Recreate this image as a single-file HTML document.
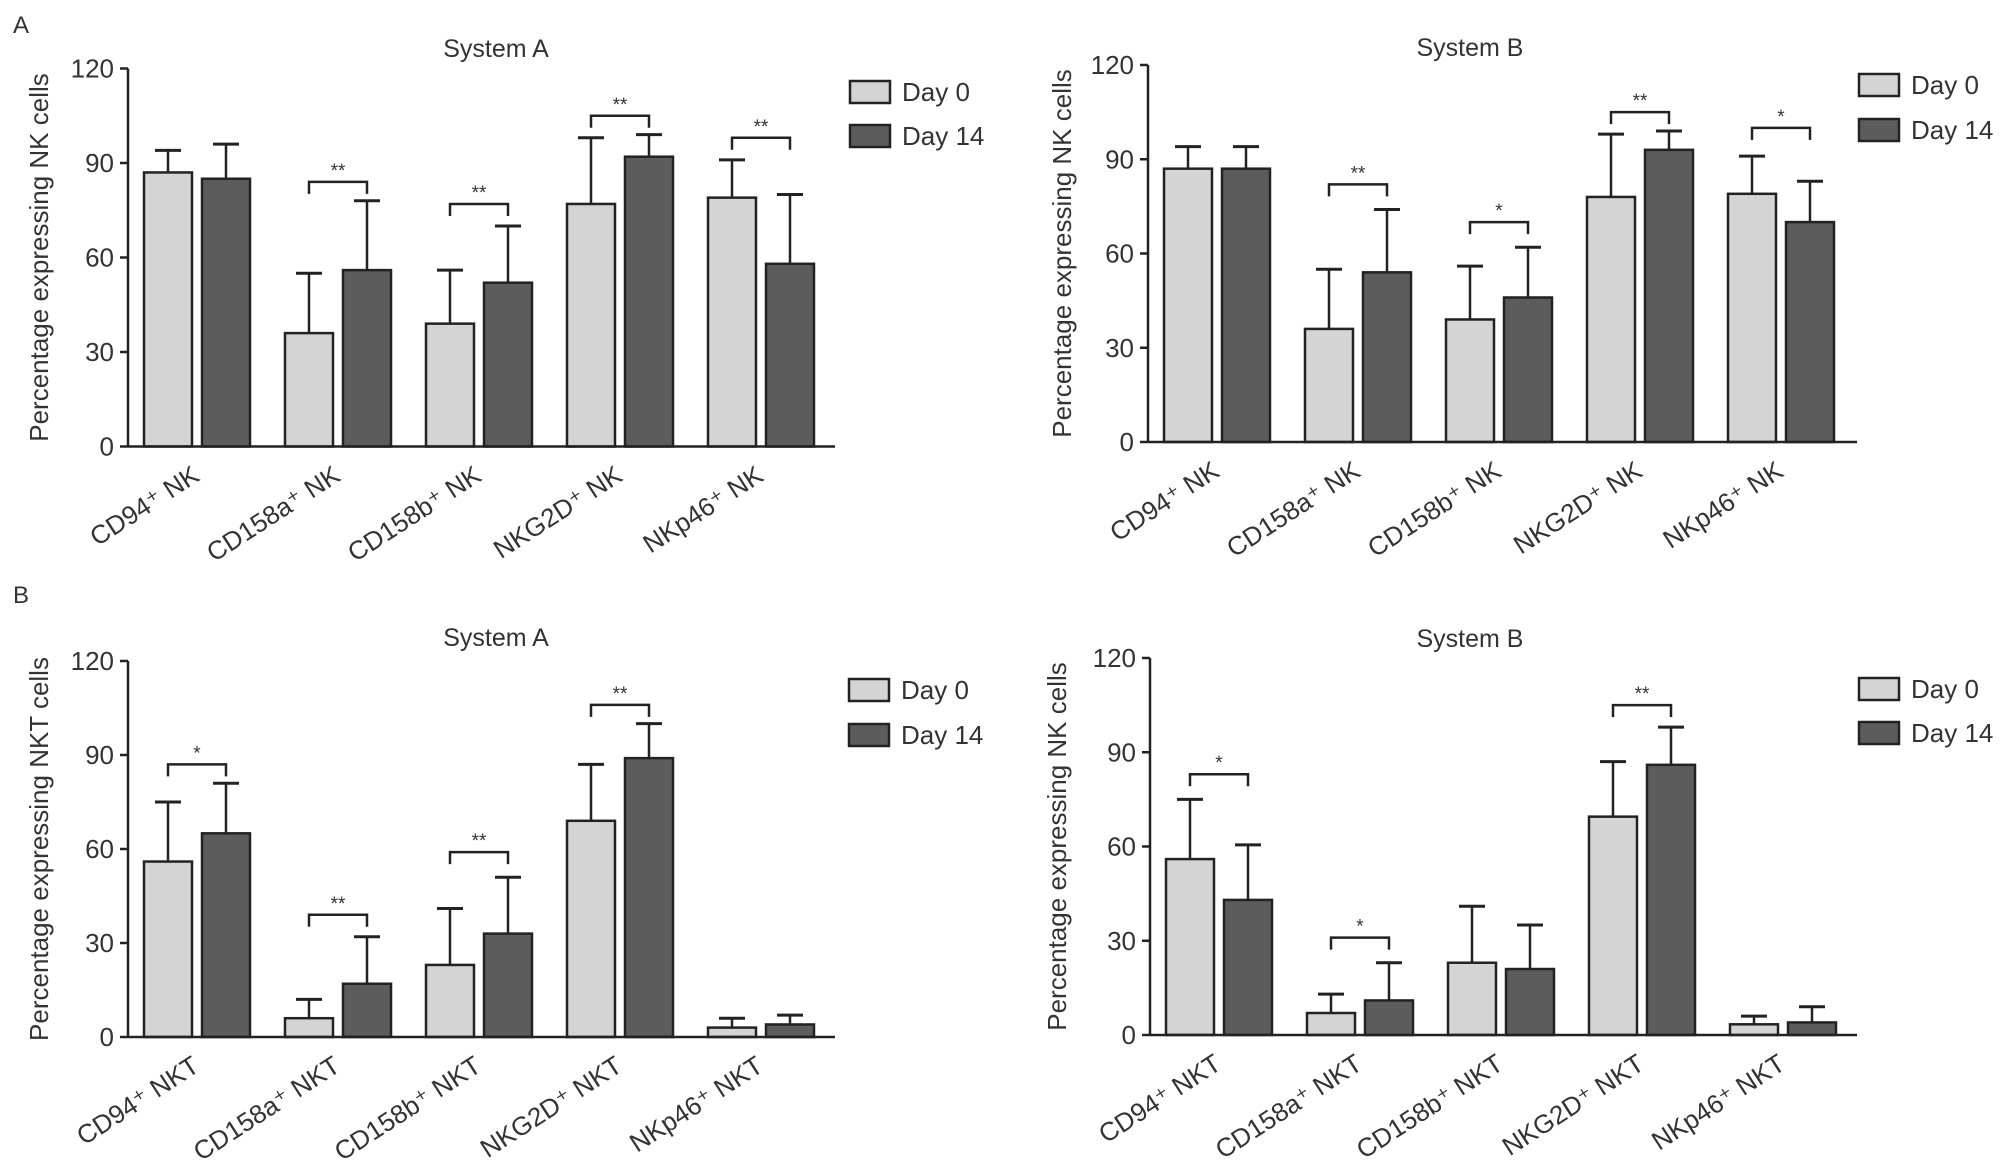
<!DOCTYPE html>
<html><head><meta charset="utf-8"><style>
html,body{margin:0;padding:0;background:#fff;}
svg{display:block;font-family:"Liberation Sans",Arial,sans-serif;}
</style></head><body>
<svg id="fig" width="2008" height="1162" viewBox="0 0 2008 1162" xmlns="http://www.w3.org/2000/svg">
<text x="13" y="33" font-size="24" fill="#333">A</text>
<text x="13" y="603" font-size="24" fill="#333">B</text>
</svg>
<script>
// Data arrays
const catsNK = ["CD94⁺ NK","CD158a⁺ NK","CD158b⁺ NK","NKG2D⁺ NK","NKp46⁺ NK"];
const catsNKT = ["CD94⁺ NKT","CD158a⁺ NKT","CD158b⁺ NKT","NKG2D⁺ NKT","NKp46⁺ NKT"];
const yTicks = [0,30,60,90,120];
const legendLabels = ["Day 0","Day 14"];

const p1Day0 = [87,36,39,77,79];
const p1Day0Err = [94,55,56,98,91];
const p1Day14 = [85,56,52,92,58];
const p1Day14Err = [96,78,70,99,80];
const p1SigCat = [1,2,3,4];
const p1SigY = [84,77,105,98];
const p1SigTxt = ["**","**","**","**"];

const p2Day0 = [87,36,39,78,79];
const p2Day0Err = [94,55,56,98,91];
const p2Day14 = [87,54,46,93,70];
const p2Day14Err = [94,74,62,99,83];
const p2SigCat = [1,2,3,4];
const p2SigY = [82,70,105,100];
const p2SigTxt = ["**","*","**","*"];

const p3Day0 = [56,6,23,69,3];
const p3Day0Err = [75,12,41,87,6];
const p3Day14 = [65,17,33,89,4];
const p3Day14Err = [81,32,51,100,7];
const p3SigCat = [0,1,2,3];
const p3SigY = [87,39,59,106];
const p3SigTxt = ["*","**","**","**"];

const p4Day0 = [56,7,23,69.5,3.4];
const p4Day0Err = [75,13,41,87,6];
const p4Day14 = [43,11,21,86,4];
const p4Day14Err = [60.5,23,35,98,9];
const p4SigCat = [0,1,3];
const p4SigY = [83,31,105];
const p4SigTxt = ["*","*","**"];

const NS="http://www.w3.org/2000/svg";
const svg=document.getElementById('fig');
function mk(tag,attrs,parent){const e=document.createElementNS(NS,tag);for(const k in attrs)e.setAttribute(k,attrs[k]);(parent||svg).appendChild(e);return e;}

function panel(id,cfg){
  const g=mk('g',{});
  
  
  const {ax,top,bot,right}=cfg;
  const yS=v=>bot-(v/120)*(bot-top);
  const xS=(i,s)=>ax+16+i*141+s*58;
  const bw=48;
  const t=mk('text',{x:cfg.tx,y:cfg.ty,'font-size':25,'text-anchor':'middle',fill:'#333'},g);
  t.textContent=cfg.title;
  
  
  const yt=mk('text',{x:0,y:0,'font-size':26,'text-anchor':'middle',fill:'#333',transform:`translate(${cfg.ytx},${(top+bot)/2}) rotate(-90)`},g);
  yt.textContent=cfg.ytitle;
  
  
  yTicks.forEach(v=>{
    const y=yS(v);
    const l=mk('line',{x1:ax-8,x2:ax,y1:y,y2:y,stroke:'#222','stroke-width':2.5},g);
    
    
    const tx=mk('text',{x:ax-14,y:y+9,'font-size':26,'text-anchor':'end',fill:'#333'},g);
    tx.textContent=v;
    
    
  });
  const series=[[cfg.d0,cfg.e0,'#d4d4d4'],[cfg.d14,cfg.e14,'#5c5c5c']];
  series.forEach((s,si)=>{
    s[0].forEach((v,i)=>{
      const x=xS(i,si), cx=x+bw/2;
      const el=mk('line',{x1:cx,x2:cx,y1:yS(s[1][i]),y2:yS(v),stroke:'#222','stroke-width':2.5},g);
      
      
      const cap=mk('line',{x1:cx-13,x2:cx+13,y1:yS(s[1][i]),y2:yS(s[1][i]),stroke:'#222','stroke-width':3},g);
      
      
      const r=mk('rect',{x:x,y:yS(v),width:bw,height:bot-yS(v),fill:s[2],stroke:'#222','stroke-width':2.5},g);
      
      
    });
  });
  const ya=mk('line',{x1:ax,x2:ax,y1:top,y2:bot,stroke:'#222','stroke-width':2.5},g);
  
  
  const xa=mk('line',{x1:ax,x2:right,y1:bot,y2:bot,stroke:'#222','stroke-width':2.5},g);
  
  
  cfg.cats.forEach((c,i)=>{
    const cx=xS(i,0)+57, cy=bot+33;
    const tx=mk('text',{x:0,y:0,'font-size':26,'text-anchor':'end',fill:'#333',transform:`translate(${cx},${cy}) rotate(-33)`},g);
    tx.textContent=c;
    
    
  });
  cfg.sc.forEach((ci,k)=>{
    const x1=xS(ci,0)+bw/2, x2=xS(ci,1)+bw/2, y=yS(cfg.sy[k]);
    const p=mk('path',{d:`M${x1},${y+12} V${y} H${x2} V${y+12}`,fill:'none',stroke:'#222','stroke-width':2.5},g);
    
    
    const st=mk('text',{x:(x1+x2)/2,y:y-5,'font-size':19,'text-anchor':'middle',fill:'#333'},g);
    st.textContent=cfg.st[k];
    
    
  });
  const cols=['#d4d4d4','#5c5c5c'];
  legendLabels.forEach((lab,k)=>{
    const y=cfg.ly[k];
    const r=mk('rect',{x:cfg.lx,y:y,width:40,height:22,fill:cols[k],stroke:'#222','stroke-width':2.5},g);
    
    
    const tx=mk('text',{x:cfg.lx+52,y:y+20,'font-size':26,fill:'#333'},g);
    tx.textContent=lab;
    
    
  });
}

panel('nk-system-a',{ax:128,top:68.5,bot:446.5,right:835,title:'System A',tx:496,ty:57,ytx:48,ytitle:'Percentage expressing NK cells',cats:catsNK,d0:p1Day0,e0:p1Day0Err,d14:p1Day14,e14:p1Day14Err,sc:p1SigCat,sy:p1SigY,st:p1SigTxt,lx:850,ly:[81,125]});
panel('nk-system-b',{ax:1148,top:65,bot:442,right:1857,title:'System B',tx:1470,ty:56,ytx:1071,ytitle:'Percentage expressing NK cells',cats:catsNK,d0:p2Day0,e0:p2Day0Err,d14:p2Day14,e14:p2Day14Err,sc:p2SigCat,sy:p2SigY,st:p2SigTxt,lx:1859,ly:[74,119]});
panel('nkt-system-a',{ax:128,top:661,bot:1037,right:835,title:'System A',tx:496,ty:646,ytx:48,ytitle:'Percentage expressing NKT cells',cats:catsNKT,d0:p3Day0,e0:p3Day0Err,d14:p3Day14,e14:p3Day14Err,sc:p3SigCat,sy:p3SigY,st:p3SigTxt,lx:849,ly:[679,724]});
panel('nkt-system-b',{ax:1150,top:658,bot:1035,right:1857,title:'System B',tx:1470,ty:647,ytx:1066,ytitle:'Percentage expressing NK cells',cats:catsNKT,d0:p4Day0,e0:p4Day0Err,d14:p4Day14,e14:p4Day14Err,sc:p4SigCat,sy:p4SigY,st:p4SigTxt,lx:1859,ly:[678,722]});
</script>
</body></html>
